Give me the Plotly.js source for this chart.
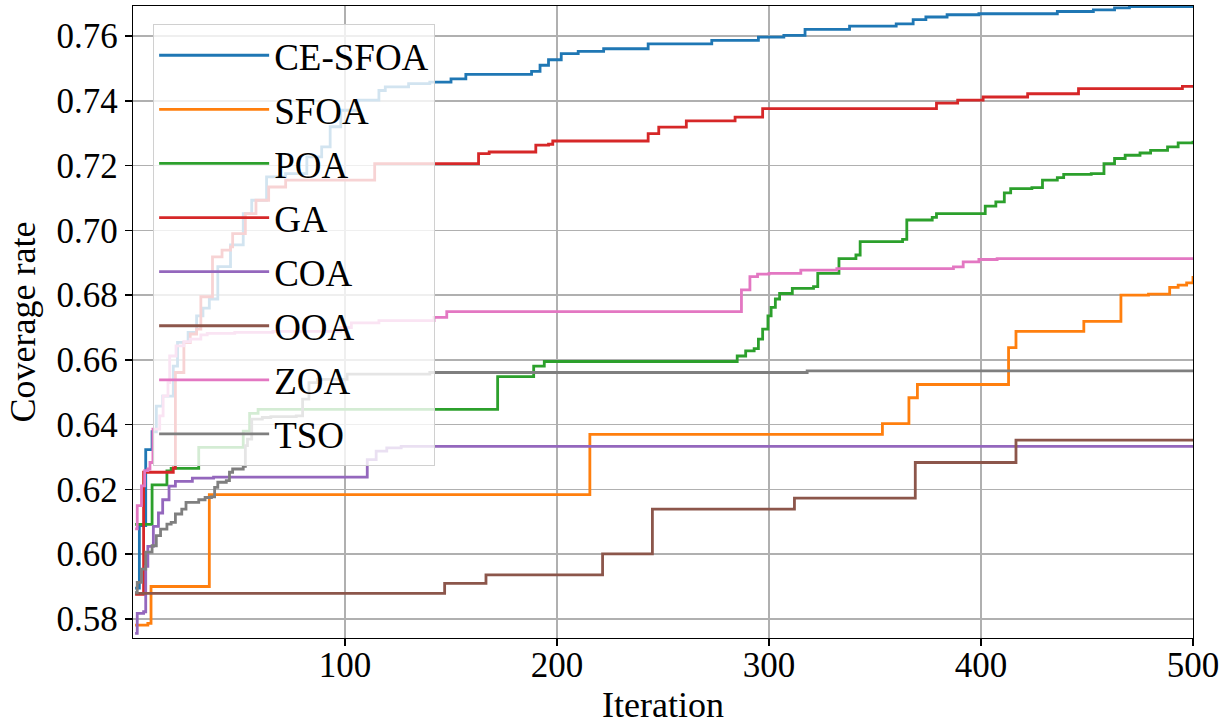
<!DOCTYPE html>
<html>
<head>
<meta charset="utf-8">
<script src="https://cdn.plot.ly/plotly-3.0.1.min.js"></script>
<style>html,body{margin:0;padding:0;background:#fff;}#chart{width:1232px;height:725px;}</style>
</head>
<body>
<div id="chart"></div>
<script>
// Series names and colours
const seriesNames = ["CE-SFOA", "SFOA", "POA", "GA", "COA", "OOA", "ZOA", "TSO"];
const seriesColors = ["#1f77b4", "#ff7f0e", "#2ca02c", "#d62728", "#9467bd", "#8c564b", "#e377c2", "#7f7f7f"];

// Step breakpoints (iteration, best coverage rate reached from that iteration on)
const ceSfoaIter = [1,3,6,9,11,14,19,21,26,30,33,36,40,46,52,56,63,72,82,89,93,98,106,116,119,130,140,150,157,188,192,196,202,210,222,243,273,295,307,317,338,360,368,374,384,399,436,453,463,470,500];
const ceSfoaRate = [0.5895,0.6088,0.6323,0.6378,0.6457,0.6488,0.6581,0.6654,0.6685,0.6736,0.6760,0.6788,0.6888,0.6955,0.7052,0.7093,0.7165,0.7175,0.7227,0.7258,0.7320,0.7371,0.7402,0.7432,0.7443,0.7453,0.7458,0.7468,0.7482,0.7491,0.7510,0.7527,0.7546,0.7553,0.7561,0.7576,0.7587,0.7597,0.7602,0.7621,0.7631,0.7638,0.7651,0.7659,0.7666,0.7669,0.7676,0.7681,0.7687,0.7691,0.7692];

const sfoaIter = [1,7,8.5,36,215.5,353.5,366,370,413,416.5,448.5,466,479,489,493,497,500];
const sfoaRate = [0.5781,0.5786,0.5900,0.6184,0.6370,0.6403,0.6483,0.6524,0.6638,0.6688,0.6719,0.6800,0.6803,0.6824,0.6831,0.6838,0.6859];

const poaIter = [1,9,16,18,31,52,55,59,172,189,194,285,289,293,295,297,299.5,301,303,305,311,321,323,333,341,343,363,365,377,379,402,407,411,414,424,429,436,439,452,458,463,468,475,480,488,493,500];
const poaRate = [0.6092,0.6214,0.6257,0.6265,0.6330,0.6380,0.6435,0.6447,0.6548,0.6581,0.6595,0.6612,0.6628,0.6635,0.6664,0.6695,0.6736,0.6762,0.6788,0.6805,0.6821,0.6826,0.6867,0.6913,0.6924,0.6965,0.6972,0.7032,0.7040,0.7052,0.7075,0.7088,0.7116,0.7129,0.7132,0.7155,0.7163,0.7173,0.7175,0.7206,0.7222,0.7232,0.7239,0.7247,0.7258,0.7270,0.7277];

const gaIter = [1,5,19,20,24,27,30,32,37.5,42,46,47,53,58,64,72,114,163,168,190,196,198,243,248,261,284,297,379,389,401,422,446,495,500];
const gaRate = [0.5876,0.6253,0.6266,0.6561,0.6653,0.6680,0.6695,0.6795,0.6918,0.6939,0.6949,0.6990,0.7052,0.7093,0.7134,0.7155,0.7206,0.7237,0.7242,0.7263,0.7266,0.7276,0.7299,0.7319,0.7338,0.7350,0.7376,0.7393,0.7402,0.7412,0.7422,0.7438,0.7445,0.7445];

const coaIter = [1,2,5,6,7,9.6,12,14,17,20,28,38,110.5,114.7,119.7,126.5,500];
const coaRate = [0.5755,0.5817,0.5822,0.5962,0.6024,0.6086,0.6127,0.6168,0.6210,0.6225,0.6235,0.6238,0.6292,0.6318,0.6328,0.6333,0.6333];

const ooaIter = [1,147,166.5,221.5,245,312,369,416.5,500];
const ooaRate = [0.5879,0.5910,0.5936,0.6001,0.6139,0.6173,0.6283,0.6352,0.6352];

const zoaIter = [1,2,4,5.5,7,8,9.4,12.6,14.2,16.5,17.3,20.3,24,27,32,35,48,66,98,103,116,142,148,287,291,294.6,300,315,332,387,391.6,399,407.6,500];
const zoaRate = [0.6078,0.6150,0.6211,0.6258,0.6263,0.6283,0.6386,0.6427,0.6489,0.6530,0.6612,0.6643,0.6656,0.6664,0.6677,0.6682,0.6685,0.6688,0.6700,0.6714,0.6721,0.6731,0.6749,0.6816,0.6857,0.6865,0.6867,0.6877,0.6882,0.6887,0.6903,0.6910,0.6913,0.6913];

const tsoIter = [1,2,4,6,9,11,13,16,18,20,23,25,31,34,37,38.5,40,44,45.5,47,52,53,54,56,61,65,77,80,83,87,101,140,318,500];
const tsoRate = [0.5882,0.5913,0.5954,0.6006,0.6026,0.6057,0.6077,0.6093,0.6098,0.6124,0.6139,0.6160,0.6168,0.6175,0.6177,0.6206,0.6222,0.6227,0.6253,0.6263,0.6271,0.6335,0.6355,0.6417,0.6422,0.6425,0.6427,0.6479,0.6530,0.6540,0.6556,0.6561,0.6566,0.6566];

const yTickVals = [0.58,0.60,0.62,0.64,0.66,0.68,0.70,0.72,0.74,0.76];
const xTickVals = [100,200,300,400,500];

const allIter = [ceSfoaIter, sfoaIter, poaIter, gaIter, coaIter, ooaIter, zoaIter, tsoIter];
const allRate = [ceSfoaRate, sfoaRate, poaRate, gaRate, coaRate, ooaRate, zoaRate, tsoRate];

const FONT = "'Liberation Serif', 'Times New Roman', serif";

const traces = seriesNames.map((name, i) => ({
  type: "scatter",
  mode: "lines",
  name: name,
  legendgroup: "g" + i,
  x: allIter[i],
  y: allRate[i],
  line: {color: seriesColors[i], width: 2.8, shape: "hv"}
}));

const layout = {
  width: 1232,
  height: 725,
  margin: {l: 133, r: 39, t: 6, b: 87},
  paper_bgcolor: "#ffffff",
  plot_bgcolor: "#ffffff",
  font: {family: FONT, color: "#000000", size: 35},
  showlegend: true,
  legend: {
    x: 0.019, y: 0.972, xanchor: "left", yanchor: "top",
    bgcolor: "rgba(255,255,255,0.8)",
    bordercolor: "#d0d0d0", borderwidth: 1,
    font: {family: FONT, size: 37, color: "#000000"},
    traceorder: "grouped", tracegroupgap: 3,
    itemwidth: 110
  },
  xaxis: {
    range: [0, 500],
    tickvals: xTickVals,
    ticktext: xTickVals.map(String),
    ticks: "outside", ticklen: 7, tickwidth: 1.3, tickcolor: "#000",
    ticklabelstandoff: -11,
    showline: true, linecolor: "#000", linewidth: 1.3, mirror: true,
    showgrid: true, gridcolor: "#b0b0b0", gridwidth: 1.3,
    zeroline: false,
    tickfont: {family: FONT, size: 35, color: "#000"},
    title: {text: "Iteration", font: {family: FONT, size: 36, color: "#000"}, standoff: 9}
  },
  yaxis: {
    range: [0.5741, 0.7693],
    tickvals: yTickVals,
    ticktext: yTickVals.map(v => v.toFixed(2)),
    ticks: "outside", ticklen: 7, tickwidth: 1.3, tickcolor: "#000",
    showline: true, linecolor: "#000", linewidth: 1.3, mirror: true,
    showgrid: true, gridcolor: "#b0b0b0", gridwidth: 1.3,
    zeroline: false,
    tickfont: {family: FONT, size: 35, color: "#000"},
    title: {text: "Coverage rate", font: {family: FONT, size: 36, color: "#000"}, standoff: 10}
  }
};

Plotly.newPlot("chart", traces, layout, {displayModeBar: false, staticPlot: true});
</script>
</body>
</html>
